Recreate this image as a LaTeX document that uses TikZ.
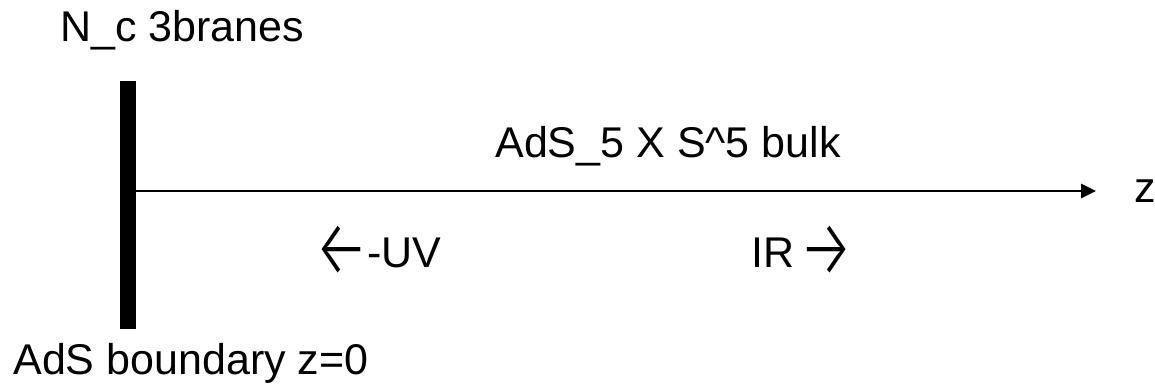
\documentclass[tikz,border=0pt]{standalone}
\usepackage{fontspec}
\setmainfont{Liberation Sans}
\newfontfamily\arrowfont{Fira Sans Light}
\usetikzlibrary{arrows,calc,arrows.meta}
\usetikzlibrary{positioning}

\newcommand{\bigarr}[1]{\raisebox{-4.5pt}{\scalebox{1.45}[1.9]{\arrowfont #1}}}

\begin{document}
\begin{tikzpicture}[x=0.5pt,y=-0.5pt]
		    \definecolor{ink}{rgb}{0,0,0}
		    \tikzset{lbl/.style={inner sep=0,anchor=base west,font=\fontsize{21.5}{26}\selectfont}}
		    \useasboundingbox (0,0) rectangle (1155,385);
		    \node(brane) [fill=ink,inner sep=0,minimum width=8pt,minimum height=124pt] at (128,205) {};
		    \node[lbl] (nc) at (60,42) {N\_c 3branes};
		    \node[lbl] (bulk) at (495,157) {AdS\_5 X S\textasciicircum 5 bulk};
		    \node[lbl] (uv) at (313,267) {\bigarr{←}\kern-1pt-UV};
		    \node[lbl] (ir) at (751,267) {IR\kern2pt\bigarr{→}};
		    \node[lbl] (bnd) at (13,374) {AdS boundary z=0};
		    \coordinate (tip) at (1096,191);
		    \node[lbl,right = 19pt of tip,anchor=west] (zlab) {z};
		    
		    \draw[-{Triangle[length=7.5pt,width=7pt]},line width=1.35pt,ink] (brane.east |- tip) -- (tip);
\end{tikzpicture}
\end{document}
